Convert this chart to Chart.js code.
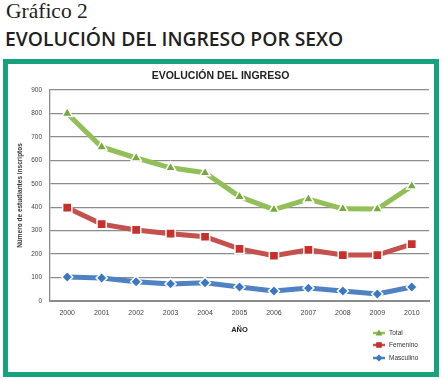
<!DOCTYPE html>
<html><head><meta charset="utf-8">
<script src="https://cdn.jsdelivr.net/npm/chart.js@4.4.0/dist/chart.umd.min.js"></script>
<style>
html,body{margin:0;padding:0;background:#fff;width:445px;height:381px;overflow:hidden;}
#h1{position:absolute;left:6px;top:1px;font-family:'Liberation Serif',serif;font-size:21.5px;line-height:21px;color:#231f20;white-space:nowrap;}
#h2{position:absolute;left:5px;top:29px;font-family:'Open Sans',sans-serif;font-weight:600;font-size:19.3px;line-height:19px;color:#231f20;white-space:nowrap;}
#box{position:absolute;left:3px;top:59px;width:426px;height:308px;border:5px solid #17a17d;background:#fff;}
#wrap{position:absolute;left:0;top:0;width:445px;height:381px;}
</style></head>
<body>
<div id="h1">Gráfico 2</div>
<div id="h2">EVOLUCIÓN DEL INGRESO POR SEXO</div>
<div id="box"></div>
<div id="wrap"><canvas id="c"></canvas></div>
<script>
const years = ['2000','2001','2002','2003','2004','2005','2006','2007','2008','2009','2010'];
const total = [800, 657, 610, 568, 547, 445, 390, 435, 393, 392, 490];
const femenino = [398, 328, 303, 287, 274, 222, 193, 218, 196, 196, 243];
const masculino = [102, 98, 82, 73, 78, 60, 43, 55, 43, 30, 60];
const seriesNames = ['Total', 'Femenino', 'Masculino'];
const chartTitle = 'EVOLUCIÓN DEL INGRESO';
const yTitle = 'Número de estudiantes inscriptos';
const xTitle = 'AÑO';

const FONT = "'Liberation Sans', Arial, sans-serif";

function drawMarker(ctx, style, x, y, r, fill) {
  ctx.save();
  ctx.fillStyle = fill;
  ctx.beginPath();
  if (style === 'triangle') {
    ctx.moveTo(x, y - r);
    ctx.lineTo(x + r * 0.95, y + r * 0.7);
    ctx.lineTo(x - r * 0.95, y + r * 0.7);
  } else if (style === 'rect') {
    ctx.rect(x - r * 0.8, y - r * 0.8, r * 1.6, r * 1.6);
  } else {
    ctx.moveTo(x, y - r); ctx.lineTo(x + r, y); ctx.lineTo(x, y + r); ctx.lineTo(x - r, y);
  }
  ctx.closePath();
  ctx.fill();
  ctx.restore();
}

const legendPlugin = {
  id: 'customLegend',
  afterDraw(chart) {
    const ctx = chart.ctx;
    const rows = [333, 345, 358];
    chart.data.datasets.forEach((ds, i) => {
      const y = rows[i];
      ctx.save();
      ctx.strokeStyle = ds.borderColor;
      ctx.lineWidth = 2.5;
      ctx.beginPath(); ctx.moveTo(373, y); ctx.lineTo(385, y); ctx.stroke();
      drawMarker(ctx, ds.pointStyle, 379, y, 3.5, ds.pointBackgroundColor);
      ctx.fillStyle = '#333';
      ctx.font = '6.5px ' + FONT;
      ctx.textBaseline = 'middle';
      ctx.fillText(ds.label, 389, y + 0.5);
      ctx.restore();
    });
  }
};

new Chart(document.getElementById('c'), {
  type: 'line',
  data: {
    labels: years,
    datasets: [
      { label: seriesNames[0], data: total, borderColor: '#93bf58', borderWidth: 5,
        pointStyle: 'triangle', pointRadius: 6, pointBackgroundColor: '#77a93f', pointBorderColor: '#ffffff', pointBorderWidth: 1.5, tension: 0 },
      { label: seriesNames[1], data: femenino, borderColor: '#c5514e', borderWidth: 5,
        pointStyle: 'rect', pointRadius: 6.5, pointBackgroundColor: '#c8302c', pointBorderColor: '#ffffff', pointBorderWidth: 1.5, tension: 0 },
      { label: seriesNames[2], data: masculino, borderColor: '#4f82c2', borderWidth: 5,
        pointStyle: 'rectRot', pointRadius: 5.5, pointBackgroundColor: '#3b78c3', pointBorderColor: '#ffffff', pointBorderWidth: 1.5, tension: 0 }
    ]
  },
  options: {
    responsive: true,
    maintainAspectRatio: false,
    animation: false,
    layout: { padding: { left: 12, top: 62, right: 16, bottom: 46.5 } },
    plugins: {
      legend: { display: false },
      tooltip: { enabled: false },
      title: { display: true, text: chartTitle, color: '#222',
        font: { family: FONT, size: 10.5, weight: 'bold' }, padding: { top: 7.7, bottom: 7.7 } }
    },
    scales: {
      y: {
        min: 0, max: 900,
        ticks: { stepSize: 100, color: '#444', font: { family: FONT, size: 6.5 }, padding: 8 },
        grid: { color: '#8c8c8c', lineWidth: 1.3, drawTicks: false },
        border: { display: true, color: '#8c8c8c', width: 1.3 },
        title: { display: true, text: yTitle, color: '#333', font: { family: FONT, size: 6.5, weight: 'bold' }, padding: { top: 4, bottom: 0 } },
        afterFit(s) { s.width = 38; }
      },
      x: {
        offset: true,
        ticks: { color: '#444', font: { family: FONT, size: 7 }, padding: 8, maxRotation: 0 },
        grid: { display: false, drawTicks: false },
        border: { display: true, color: '#8c8c8c', width: 2 },
        title: { display: true, text: xTitle, color: '#222', font: { family: FONT, size: 7.5, weight: 'bold' }, padding: { top: 0, bottom: 0 } },
        afterFit(s) { s.height = 33.5; }
      }
    }
  },
  plugins: [legendPlugin]
});
</script>
</body></html>
